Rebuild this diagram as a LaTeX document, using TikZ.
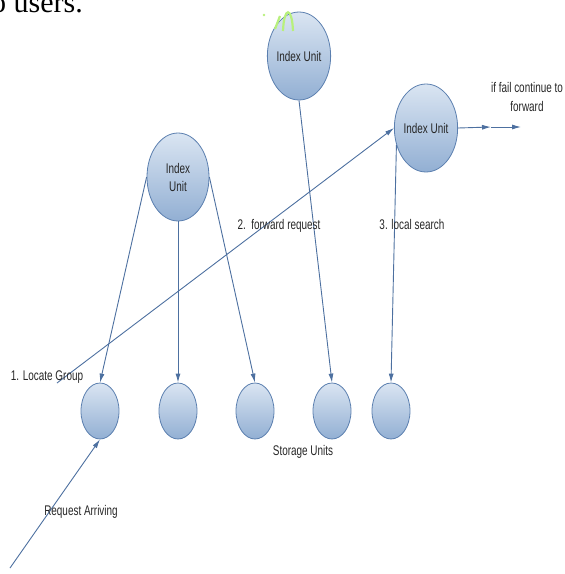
\documentclass[tikz,border=0pt]{standalone}
\usepackage{fontspec}
\setmainfont{Liberation Sans}[FakeStretch=0.71]
\newfontfamily\docfont{Liberation Serif}
\usetikzlibrary{arrows.meta}
\usetikzlibrary{shapes.geometric}
\definecolor{unitedge}{HTML}{5B7FAF}
\definecolor{unittop}{HTML}{DAE5F2}
\definecolor{unitbot}{HTML}{92AFD3}
\definecolor{linkblue}{HTML}{4D70A0}
\definecolor{labelgray}{HTML}{262626}
\definecolor{specks}{HTML}{B8F07C}
\begin{document}
\begin{tikzpicture} [
        x=1pt, y=-1pt,
        indexunit/.style={draw=unitedge, ellipse, thick, top color=unittop, bottom color=unitbot,
            minimum width=62pt, minimum height=88pt, inner sep=0pt, align=center, text=labelgray},
        storage/.style={draw=unitedge, ellipse, thick, top color=unittop, bottom color=unitbot,
            minimum width=38pt, minimum height=56pt, inner sep=0pt},
        link/.style={draw=linkblue, line width=0.9pt, ->},
        lbl/.style={text=labelgray, inner sep=0pt, align=center},
        >={Latex[length=9pt,width=5pt]},
        font=\fontsize{14}{18}\selectfont ]
    \useasboundingbox (0,0) rectangle (565,574);
    \node[anchor=base east, inner sep=0pt, font=\docfont\fontsize{30}{32}\selectfont] (docline) at (83,12) {to users.};
    \node[indexunit] (iuL) at (178,177) {Index\\Unit};
    \node[indexunit] (iuT) at (299,56) {Index Unit};
    \node[indexunit] (iuR) at (426,128) {Index Unit};
    \foreach \x [count=\i] in {100,178,255,332,391}
        \node[storage] (su\i) at (\x,411) {};
    % stray green marks on top of the upper unit
    \draw[specks, line width=2.2pt] (275,29) -- (280,16) (283,31) .. controls (284,6) and (292,6) .. (293,31);
    \fill[specks] (264,15) circle (1.3pt);
    \draw[link] (iuL.west) -- (su1.north);
    \draw[link] (iuL.south) -- (su2.north);
    \draw[link] (iuL.east) -- (su3.north);
    \draw[link] (iuT.south) -- (su4.north);
    \draw[link] (iuR.210) -- (su5.north);
    \coordinate (fwdstart) at (57,383);
    \draw[link] (fwdstart) -- (iuR.west);
    \coordinate (reqstart) at (10,568);
    \draw[link] (reqstart) -- (su1.south);
    \coordinate (failmid) at (491,127);
    \coordinate (failend) at (521,127);
    \draw[link] (iuR.east) -- (failmid);
    \draw[link] (failmid) -- (failend);
    \node[lbl] (locate) at (47,377) {1. Locate Group};
    \node[lbl] (forward) at (279,226) {2.\ \ forward request};
    \node[lbl] (search) at (412,224) {3. local search};
    \node[lbl] (storagelbl) at (303,452) {Storage Units};
    \node[lbl] (arriving) at (81,512) {Request Arriving};
    \node[lbl, font=\fontsize{14}{19}\selectfont] (fail) at (527,97) {if fail continue to\\forward};
\end{tikzpicture}
\end{document}
